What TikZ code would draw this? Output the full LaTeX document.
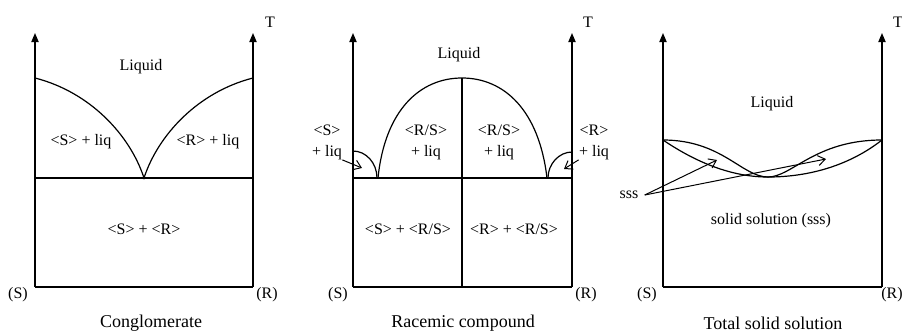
\documentclass[tikz,border=0pt]{standalone}
\usepackage{fontspec}
\setmainfont{Liberation Serif}
\usepackage{tikz}
\usetikzlibrary{arrows.meta,positioning}
\tikzstyle{axis}=[-{Triangle[length=4.5pt,width=3.6pt]}, line width=0.6pt]
\tikzstyle{phase}=[line width=0.6pt]
\tikzstyle{lab}=[font=\fontsize{8}{10.5}\selectfont, align=center, inner sep=0pt]
\tikzstyle{title}=[font=\fontsize{9}{11}\selectfont, inner sep=0pt]
\tikzstyle{pointer}=[-{Straight Barb[length=3.5pt,width=5pt]}, line width=0.5pt]

\begin{document}
\begin{tikzpicture}[x=0.5pt,y=-0.5pt]
\useasboundingbox (0,0) rectangle (902,333);
% axes of the three diagrams
\foreach \xl/\xr in {35/253, 353/572, 663/882} {
  \draw[axis] (\xl,287)--(\xl,33);
  \draw[axis] (\xr,287)--(\xr,33);
  \draw[phase] (\xl,287)--(\xr,287);
}
% conglomerate
\draw[phase] (35,178)--(253,178);
\draw[phase] (35,78) .. controls (90,92) and (130,135) .. (144,178)
  .. controls (158,135) and (198,92) .. (253,78);
\node[lab] (tA) at (270,22) {T};
\node[lab] (liqA) at (141,67) {Liquid};
\node[lab] (sliqA) at (81,142) {<S> + liq};
\node[lab] (rliqA) at (208,142) {<R> + liq};
\node[lab] (srA) at (144,229) {<S> + <R>};
\node[lab] (sA) at (18,295) {(S)};
\node[lab] (rA) at (267,295) {(R)};
\node[title] (capA) at (151,323) {Conglomerate};
% racemic compound
\draw[phase] (353,178)--(572,178);
\draw[phase] (462,287)--(462,78);
\draw[phase] (378,178) .. controls (385,110) and (420,78) .. (462,78)
  .. controls (504,78) and (539,110) .. (547,178);
\draw[phase] (353,151) .. controls (366,151) and (377,163) .. (377,178);
\draw[phase] (572,152) .. controls (559,152) and (548,164) .. (548,178);
\node[lab] (tB) at (588,22) {T};
\node[lab] (liqB) at (459,55) {Liquid};
\node[lab] (sliqB) at (327,142) {<S>\\+ liq};
\node[lab] (rliqB) at (594,142) {<R>\\+ liq};
\node[lab] (rsL) at (426,142) {<R/S>\\+ liq};
\node[lab] (rsR) at (499,142) {<R/S>\\+ liq};
\node[lab] (srsB) at (408,229) {<S> + <R/S>};
\node[lab] (rrsB) at (514,229) {<R> + <R/S>};
\node[lab] (sB) at (338,295) {(S)};
\node[lab] (rB) at (586,295) {(R)};
\node[title] (capB) at (463,323) {Racemic compound};
\coordinate (sTip) at (362,168);
\coordinate (rTip) at (564,169);
\draw[pointer] (sliqB.south east) -- (sTip);
\draw[pointer] (rliqB.south west) -- (rTip);
% total solid solution
\draw[phase] (663,140) .. controls (722,140) and (742,177) .. (768,177)
  .. controls (792,177) and (815,140) .. (882,140);
\draw[phase] (663,140) .. controls (700,165) and (735,177) .. (768,177)
  .. controls (810,177) and (850,165) .. (882,140);
\node[lab] (tC) at (898,22) {T};
\node[lab] (liqC) at (772,104) {Liquid};
\node[lab] (sssC) at (629,195) {sss};
\node[lab] (solC) at (771,221) {solid solution (sss)};
\node[lab] (sC) at (647,295) {(S)};
\node[lab] (rC) at (892,295) {(R)};
\node[title] (capC) at (773,323) {Total solid solution};
\coordinate (lensL) at (717,160);
\coordinate (lensR) at (826,159);
\draw[pointer] ([xshift=3pt]sssC.east) -- (lensL);
\draw[pointer] ([xshift=3pt]sssC.east) -- (lensR);
\end{tikzpicture}
\end{document}
